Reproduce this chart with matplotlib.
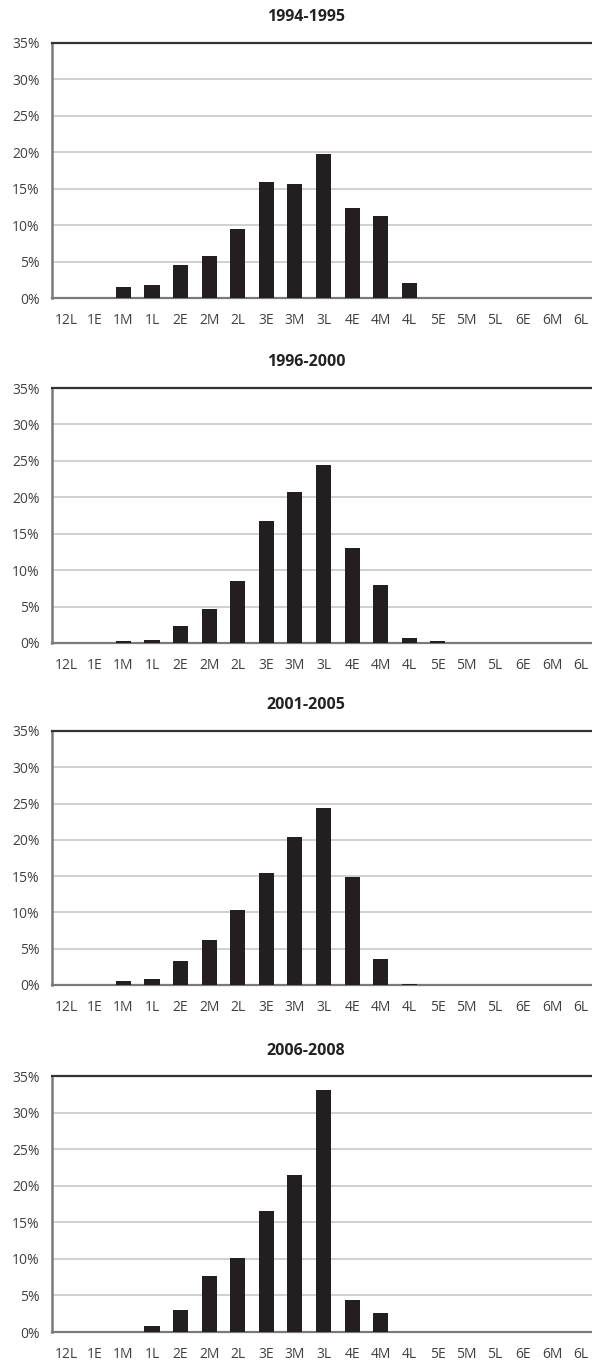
import matplotlib
matplotlib.use("Agg")
import matplotlib.pyplot as plt
import numpy as np

plt.rcParams['font.family'] = ['Open Sans', 'DejaVu Sans']

# grade-month categories on the x axis
grades = ["12L", "1E", "1M", "1L", "2E", "2M", "2L", "3E", "3M", "3L",
          "4E", "4M", "4L", "5E", "5M", "5L", "6E", "6M", "6L"]

periods = ["1994-1995", "1996-2000", "2001-2005", "2006-2008"]

# share of entrants (%) per category
p1994 = [0, 0, 1.5, 1.75, 4.5, 5.75, 9.5, 15.9, 15.6, 19.8,
         12.3, 11.2, 2.05, 0, 0, 0, 0, 0, 0]
p1996 = [0, 0, 0.3, 0.45, 2.3, 4.6, 8.5, 16.7, 20.7, 24.4,
         13.1, 7.9, 0.75, 0.3, 0, 0, 0, 0, 0]
p2001 = [0, 0, 0.55, 0.87, 3.25, 6.2, 10.4, 15.5, 20.4, 24.4,
         14.9, 3.6, 0.15, 0, 0, 0, 0, 0, 0]
p2006 = [0, 0, 0, 0.8, 3.05, 7.7, 10.1, 16.6, 21.5, 33.1,
         4.4, 2.6, 0, 0, 0, 0, 0, 0, 0]

series = [p1994, p1996, p2001, p2006]

W, H = 592, 1360
fig = plt.figure(figsize=(W / 100, H / 100), dpi=100)

# top / bottom pixel rows of each panel's plot area, and title rows
tops = [43, 388, 731, 1076]
bottoms = [298, 643, 985, 1332]
title_rows = [17, 362, 705, 1051]
left, right = 52, 595

x = np.arange(len(grades))
for name, vals, top, bot, ty in zip(periods, series, tops, bottoms, title_rows):
    ax = fig.add_axes([left / W, 1 - bot / H, (right - left) / W, (bot - top) / H])
    ax.bar(x, vals, width=0.53, color="#231f20", zorder=3)
    ax.set_xlim(-0.5, len(grades) - 0.5)
    ax.set_ylim(0, 35)
    ax.set_yticks(np.arange(0, 36, 5))
    ax.set_yticklabels([f"{v}%" for v in range(0, 36, 5)])
    ax.set_xticks(x)
    ax.set_xticklabels(grades)
    ax.grid(axis="y", color="#c8c8c8", linewidth=1.2, zorder=0)
    ax.tick_params(length=0, labelsize=10, labelcolor="#404040")
    ax.tick_params(axis="y", pad=9)
    ax.tick_params(axis="x", pad=11)
    ax.spines["top"].set_color("#333333")
    ax.spines["top"].set_linewidth(1.6)
    ax.spines["left"].set_color("#7a7a7a")
    ax.spines["left"].set_linewidth(1.8)
    ax.spines["bottom"].set_color("#7a7a7a")
    ax.spines["bottom"].set_linewidth(1.6)
    ax.spines["right"].set_visible(False)
    fig.text(306 / W, 1 - ty / H, name, ha="center", va="center",
             fontsize=11.5, fontweight="bold", color="#222222")

fig.savefig("out.png", dpi=100)
